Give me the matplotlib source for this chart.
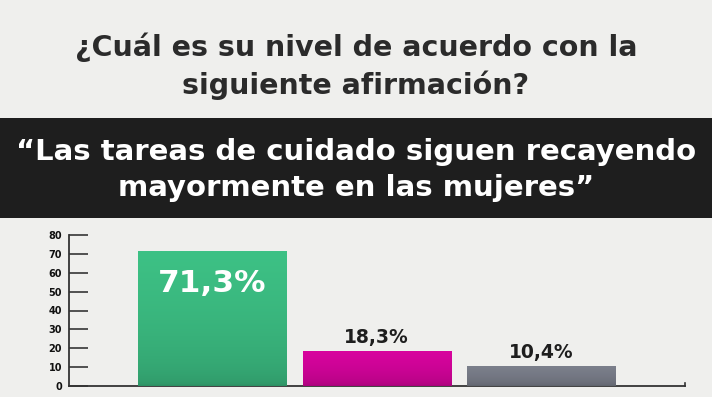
import numpy as np
import matplotlib.pyplot as plt
from matplotlib.colors import LinearSegmentedColormap, to_rgb

# datos
categorias = ["De acuerdo", "En desacuerdo", "Ns/Nc"]
valores = [71.3, 18.3, 10.4]
etiquetas = ["71,3%", "18,3%", "10,4%"]
colores = ["#3dc185", "#d8049e", "#7b7f8b"]
yticks = [0, 10, 20, 30, 40, 50, 60, 70, 80]

titulo = "¿Cuál es su nivel de acuerdo con la\nsiguiente afirmación?"
frase = "“Las tareas de cuidado siguen recayendo\nmayormente en las mujeres”"

fondo = "#efefed"
plt.rcParams['font.family'] = ['DejaVu Sans']

fig = plt.figure(figsize=(7.12, 3.97), dpi=100)
fig.patch.set_facecolor(fondo)

# titulo
fig.text(0.5, 1 - 66 / 397, titulo, ha='center', va='center', fontsize=20.5,
         fontweight='bold', color='#2b2b2b', linespacing=1.35)

# banda negra con la frase
fig.patches.append(plt.Rectangle((0, 1 - 218 / 397), 1, 100 / 397, transform=fig.transFigure,
                                 facecolor='#1e1e1e', edgecolor='none', zorder=0))
fig.text(0.5, 1 - 170 / 397, frase, ha='center', va='center', fontsize=21,
         fontweight='bold', color='white', linespacing=1.4)

# grafico de barras
ax = fig.add_axes([69 / 712, 11 / 397, 616 / 712, 151 / 397])
ax.set_facecolor(fondo)
x = np.arange(len(categorias))
bars = ax.bar(x, valores, width=0.9, color=colores, zorder=2)
ax.set_xlim(-0.87, 2.875)
ax.set_ylim(0, 80)

# degradado leve hacia abajo
for b, c in zip(bars, colores):
    r, g, bl = to_rgb(c)
    cmap = LinearSegmentedColormap.from_list('g', [(r * 0.75, g * 0.75, bl * 0.75), (r, g, bl)])
    grad = np.linspace(0, 1, 100).reshape(-1, 1) ** 0.4
    im = ax.imshow(grad, cmap=cmap, aspect='auto', origin='lower', zorder=3,
                   extent=[b.get_x(), b.get_x() + b.get_width(), 0, b.get_height()])
    im.set_clip_path(b)

ax.text(x[0], 54.5, etiquetas[0], ha='center', va='center', fontsize=22.5,
        fontweight='bold', color='white', zorder=4)
for i in [1, 2]:
    ax.text(x[i], valores[i] + 2.3, etiquetas[i], ha='center', va='bottom', fontsize=13.5,
            fontweight='bold', color='#1e1e1e', zorder=4)

ax.set_yticks(yticks)
ax.set_xticks([])
ax.tick_params(axis='y', direction='in', length=14, width=1.3, color='#444444',
               labelsize=7, pad=5, labelcolor='#111111')
for lab in ax.get_yticklabels():
    lab.set_fontweight('bold')
for s in ['top', 'right']:
    ax.spines[s].set_visible(False)
ax.spines['left'].set_linewidth(1.3)
ax.spines['bottom'].set_linewidth(1.3)
ax.spines['left'].set_color('#333333')
ax.spines['bottom'].set_color('#333333')
# pequeño remate al final del eje x
ax.plot([1, 1], [0, 0.02], transform=ax.transAxes, color='#333333', lw=1.2, clip_on=False)

fig.savefig('out.png', dpi=100, facecolor=fondo)
